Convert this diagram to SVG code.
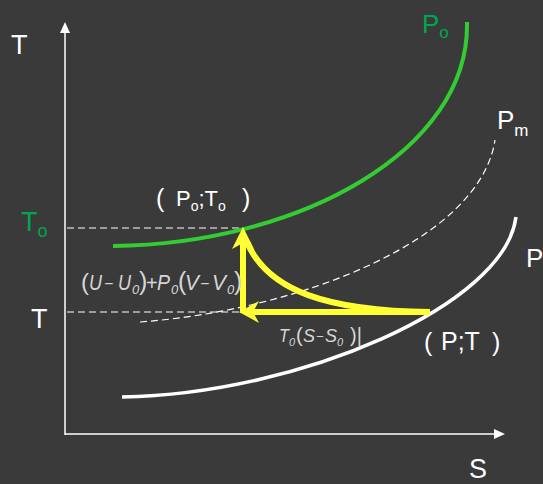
<svg xmlns="http://www.w3.org/2000/svg" width="543" height="484" viewBox="0 0 543 484">
<defs>
<style>
.lbl{font-family:"Liberation Sans",Arial,sans-serif;fill:#ffffff}
.grn{fill:#00a64f}
.fm{font-family:"Liberation Sans",Arial,sans-serif;font-style:italic;fill:#d6d6d6}
.fp{font-family:"Liberation Sans",Arial,sans-serif;fill:#d6d6d6}
.axis{stroke:#ffffff;stroke-width:1.5;fill:none}
.dash{stroke:#ffffff;stroke-width:1.2;stroke-dasharray:7,4;fill:none}
.yl{stroke:#ffff33;stroke-width:6;fill:none}
</style>
</defs>
<rect x="0" y="0" width="543" height="484" fill="#3a3a3a"/>
<g id="axes">
<line class="axis" x1="65" y1="435" x2="65" y2="30"/>
<polygon points="65,22 60,33 70,33" fill="#ffffff"/>
<line class="axis" x1="65" y1="434" x2="496" y2="434"/>
<polygon points="505,434 494,429 494,439" fill="#ffffff"/>
</g>
<g id="connectors">
<line class="dash" x1="67" y1="228" x2="243" y2="228"/>
<line class="dash" x1="67" y1="312" x2="243" y2="312"/>
<path class="dash" d="M140,322 C300,310 480,240 495,140"/>
<path d="M113,246 C300,244 470,150 467,22" stroke="#33cc33" stroke-width="4" fill="none"/>
<path d="M122,397 C300,394 505,305 516,217" stroke="#ffffff" stroke-width="3.5" fill="none"/>
<path class="yl" d="M243,313 L243,240"/>
<path class="yl" d="M430,312 L252,312"/>
<path class="yl" d="M247,242 C268,292 330,311 430,312"/>
<polygon points="243,227 232,249 243,243 254,249" fill="#ffff33"/>
<polygon points="239,312 259,301 253,312 259,323" fill="#ffff33"/>
</g>
<g id="labels">
<text class="lbl" x="11" y="54" font-size="27">T</text>
<text class="lbl" x="469" y="478" font-size="27">S</text>
<text class="lbl" x="31" y="328" font-size="27">T</text>
<text class="lbl grn" x="21" y="231" font-size="27">T<tspan font-size="18" dy="6">o</tspan></text>
<text class="lbl grn" x="422" y="33" font-size="26">P<tspan font-size="17" dy="5">o</tspan></text>
<text class="lbl" x="497" y="129" font-size="26">P<tspan font-size="17" dy="7">m</tspan></text>
<text class="lbl" x="526" y="267" font-size="26">P</text>
<g id="node-p0t0">
<text class="lbl" x="156" y="207" font-size="25">(</text>
<text class="lbl" x="176" y="206" font-size="22">P<tspan font-size="14" dy="5">o</tspan><tspan dy="-5">;T</tspan><tspan font-size="14" dy="5">o</tspan></text>
<text class="lbl" x="242" y="207" font-size="25">)</text>
</g>
<g id="node-pt">
<text class="lbl" x="424" y="351" font-size="25">(</text>
<text class="lbl" x="441" y="350" font-size="25">P;T</text>
<text class="lbl" x="492" y="351" font-size="25">)</text>
</g>
</g>
<g id="formula-work">
<text class="fp" x="81" y="290" font-size="24">(</text>
<text class="fm" x="89" y="290" font-size="22" textLength="13" lengthAdjust="spacingAndGlyphs">U</text>
<text class="fm" x="104" y="289" font-size="16">−</text>
<text class="fm" x="118" y="290" font-size="22" textLength="13" lengthAdjust="spacingAndGlyphs">U</text>
<text class="fm" x="132" y="294" font-size="13">0</text>
<text class="fp" x="139" y="290" font-size="25">)</text>
<text class="fp" x="146" y="290" font-size="20">+</text>
<text class="fm" x="157" y="290" font-size="22" textLength="13" lengthAdjust="spacingAndGlyphs">P</text>
<text class="fm" x="171" y="294" font-size="13">0</text>
<text class="fp" x="178" y="290" font-size="25">(</text>
<text class="fm" x="185" y="290" font-size="22" textLength="14" lengthAdjust="spacingAndGlyphs">V</text>
<text class="fm" x="200" y="289" font-size="16">−</text>
<text class="fm" x="212" y="290" font-size="22" textLength="14" lengthAdjust="spacingAndGlyphs">V</text>
<text class="fm" x="227" y="294" font-size="13">0</text>
<text class="fp" x="234" y="290" font-size="25">)</text>
</g>
<g id="formula-heat">
<text class="fm" x="279" y="342" font-size="18" textLength="10" lengthAdjust="spacingAndGlyphs">T</text>
<text class="fm" x="289" y="346" font-size="11">0</text>
<text class="fp" x="296" y="342" font-size="20">(</text>
<text class="fm" x="303" y="342" font-size="18">S</text>
<text class="fm" x="316" y="341" font-size="13">−</text>
<text class="fm" x="325" y="342" font-size="18">S</text>
<text class="fm" x="337" y="346" font-size="11">0</text>
<text class="fp" x="350" y="342" font-size="20">)|</text>
</g>
</svg>
